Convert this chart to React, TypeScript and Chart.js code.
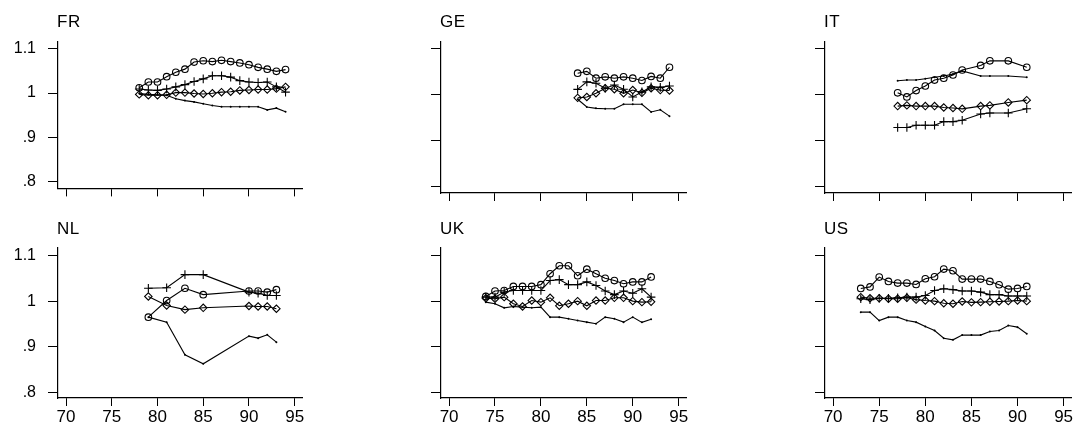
import React, { useEffect, useRef } from "react";
import { Chart, registerables } from "chart.js";

Chart.register(...registerables);

// ---------- tick labels ----------
const xTicks = [70, 75, 80, 85, 90, 95];
const yTicks = [0.8, 0.9, 1.0, 1.1];

// ---------- FR ----------
const frYears = [78, 79, 80, 81, 82, 83, 84, 85, 86, 87, 88, 89, 90, 91, 92, 93, 94];
const frCircle = [1.012, 1.025, 1.025, 1.037, 1.047, 1.054, 1.07, 1.073, 1.071, 1.074, 1.071, 1.068, 1.064, 1.058, 1.054, 1.049, 1.053];
const frPlus = [1.009, 1.007, 1.006, 1.009, 1.014, 1.019, 1.026, 1.032, 1.039, 1.039, 1.036, 1.028, 1.025, 1.024, 1.025, 1.014, 1.002];
const frDiamond = [0.997, 0.995, 0.995, 0.996, 1.001, 1.001, 0.999, 0.998, 0.9995, 1.002, 1.003, 1.006, 1.007, 1.008, 1.008, 1.01, 1.014];
const frDots = [0.999, 0.997, 0.996, 0.995, 0.987, 0.983, 0.98, 0.976, 0.972, 0.969, 0.969, 0.969, 0.969, 0.969, 0.962, 0.966, 0.958];

// ---------- GE ----------
const geYears = [84, 85, 86, 87, 88, 89, 90, 91, 92, 93, 94];
const geCircle = [1.047, 1.051, 1.036, 1.039, 1.036, 1.039, 1.036, 1.031, 1.04, 1.036, 1.06];
const gePlus = [1.0115, 1.028, 1.025, 1.014, 1.021, 1.012, 0.995, 1.006, 1.017, 1.016, 1.019];
const geDiamond = [0.993, 0.995, 1.003, 1.014, 1.012, 1.003, 1.01, 1.004, 1.014, 1.01, 1.009];
const geDots = [0.99, 0.973, 0.97, 0.969, 0.969, 0.979, 0.979, 0.979, 0.962, 0.967, 0.953];

// ---------- IT ----------
const itYears = [77, 78, 79, 80, 81, 82, 83, 84, 86, 87, 89, 91];
const itCircle = [1.004, 0.995, 1.009, 1.019, 1.032, 1.036, 1.043, 1.054, 1.064, 1.074, 1.074, 1.06];
const itPlus = [0.928, 0.928, 0.933, 0.933, 0.933, 0.941, 0.941, 0.944, 0.9575, 0.96, 0.96, 0.969];
const itDiamond = [0.975, 0.9765, 0.975, 0.975, 0.975, 0.972, 0.9707, 0.969, 0.975, 0.9765, 0.983, 0.988];
const itDots = [1.0305, 1.032, 1.032, 1.035, 1.038, 1.041, 1.045, 1.052, 1.041, 1.041, 1.041, 1.038];

// ---------- NL ----------
const nlYears = [79, 81, 83, 85, 90, 91, 92, 93];
const nlCircle = [0.9655, 1.002, 1.029, 1.015, 1.023, 1.023, 1.0205, 1.026];
const nlPlus = [1.029, 1.03, 1.059, 1.059, 1.0205, 1.018, 1.013, 1.013];
const nlDiamond = [1.011, 0.991, 0.982, 0.986, 0.99, 0.989, 0.989, 0.984];
const nlDots = [0.9655, 0.9545, 0.8826, 0.8628, 0.9237, 0.9193, 0.9266, 0.9105];

// ---------- UK ----------
const ukYears = [74, 75, 76, 77, 78, 79, 80, 81, 82, 83, 84, 85, 86, 87, 88, 89, 90, 91, 92];
const ukCircle = [1.011, 1.023, 1.024, 1.033, 1.033, 1.033, 1.037, 1.061, 1.0785, 1.0785, 1.0565, 1.071, 1.061, 1.051, 1.046, 1.039, 1.043, 1.043, 1.054];
const ukPlus = [1.0095, 1.0095, 1.0205, 1.024, 1.024, 1.024, 1.024, 1.046, 1.048, 1.037, 1.037, 1.043, 1.035, 1.023, 1.015, 1.023, 1.018, 1.028, 1.0095];
const ukDiamond = [1.007, 1.006, 1.0095, 0.995, 0.989, 1.002, 0.9985, 1.008, 0.9905, 0.995, 1.0007, 0.9905, 1.002, 1.002, 1.008, 1.008, 1.0007, 0.9985, 0.9993];
const ukDots = [0.9985, 0.995, 0.986, 0.989, 0.9875, 0.986, 0.9875, 0.9655, 0.9655, 0.962, 0.958, 0.9545, 0.951, 0.9655, 0.962, 0.9545, 0.9655, 0.954, 0.961];

// ---------- US ----------
const usYears = [73, 74, 75, 76, 77, 78, 79, 80, 81, 82, 83, 84, 85, 86, 87, 88, 89, 90, 91];
const usCircle = [1.0286, 1.032, 1.0536, 1.044, 1.0404, 1.0404, 1.0374, 1.0499, 1.0543, 1.0712, 1.0675, 1.0492, 1.0492, 1.0492, 1.044, 1.0367, 1.0271, 1.0286, 1.033];
const usPlus = [1.006, 1.004, 1.007, 1.007, 1.008, 1.0095, 1.0095, 1.013, 1.024, 1.028, 1.026, 1.023, 1.023, 1.0205, 1.015, 1.015, 1.012, 1.012, 1.012];
const usDiamond = [1.0095, 1.007, 1.007, 1.006, 1.006, 1.008, 1.004, 1.002, 1.0007, 0.996, 0.995, 1.0, 0.998, 0.9985, 0.9993, 1.0, 1.0007, 1.002, 1.0007];
const usDots = [0.9765, 0.9765, 0.958, 0.9655, 0.9655, 0.958, 0.9545, 0.945, 0.936, 0.919, 0.9156, 0.926, 0.926, 0.926, 0.934, 0.936, 0.947, 0.9435, 0.929];

type Panel = {
  name: string;
  years: number[];
  circle: number[];
  plus: number[];
  diamond: number[];
  dots: number[];
};

const panels: Panel[] = [
  { name: "FR", years: frYears, circle: frCircle, plus: frPlus, diamond: frDiamond, dots: frDots },
  { name: "GE", years: geYears, circle: geCircle, plus: gePlus, diamond: geDiamond, dots: geDots },
  { name: "IT", years: itYears, circle: itCircle, plus: itPlus, diamond: itDiamond, dots: itDots },
  { name: "NL", years: nlYears, circle: nlCircle, plus: nlPlus, diamond: nlDiamond, dots: nlDots },
  { name: "UK", years: ukYears, circle: ukCircle, plus: ukPlus, diamond: ukDiamond, dots: ukDots },
  { name: "US", years: usYears, circle: usCircle, plus: usPlus, diamond: usDiamond, dots: usDots },
];

// ---------- layout ----------
const FONT = "'Liberation Sans', Arial, sans-serif";
const COL_LEFT = [58, 441, 825];
const COL_WIDTH = [244, 245, 246];
const ROW_TOP = [0, 210];
const ROW_HEIGHT = [210, 223];
const ROW_PAD_TOP = [42, 38];
const ROW_XAXIS_H = [17, 35];
const ROW_YMIN = [0.7847, 0.7876];
const ROW_YMAX = [1.1153, 1.1176];
const X_MIN = 69.12;
const X_MAX = 95.8;
const Y_AXIS_W = 58;
const RIGHT_PAD = 12;

const fmtY = (v: number) => {
  const s = String(Math.round(v * 10) / 10);
  return s.startsWith("0.") ? s.slice(1) : s;
};

function PanelChart({ panel, row, col }: { panel: Panel; row: number; col: number }) {
  const ref = useRef<HTMLCanvasElement>(null);
  const width = Y_AXIS_W + COL_WIDTH[col] + RIGHT_PAD;
  const height = ROW_HEIGHT[row];

  useEffect(() => {
    if (!ref.current) return;
    const pts = (vals: number[]) => panel.years.map((x, i) => ({ x, y: vals[i] }));
    const base = {
      borderColor: "#000",
      borderWidth: 1.1,
      tension: 0,
      fill: false,
      pointBorderColor: "#000",
      pointBorderWidth: 1.1,
    };
    const chart = new Chart(ref.current, {
      type: "line",
      data: {
        datasets: [
          { ...base, data: pts(panel.dots), pointStyle: "circle", pointRadius: 1, pointBorderWidth: 0, pointBackgroundColor: "#000" },
          { ...base, data: pts(panel.diamond), pointStyle: "rectRot", pointRadius: 3.7, pointBackgroundColor: "rgba(0,0,0,0)" },
          { ...base, data: pts(panel.plus), pointStyle: "cross", pointRadius: 4.3, pointBackgroundColor: "rgba(0,0,0,0)" },
          { ...base, data: pts(panel.circle), pointStyle: "circle", pointRadius: 3.3, pointBackgroundColor: "rgba(0,0,0,0)" },
        ] as any,
      },
      options: {
        responsive: false,
        animation: false,
        devicePixelRatio: 1,
        layout: { padding: { top: ROW_PAD_TOP[row], right: RIGHT_PAD, left: 0, bottom: 0 } },
        plugins: {
          legend: { display: false },
          tooltip: { enabled: false },
          title: { display: false },
        },
        scales: {
          x: {
            type: "linear",
            min: X_MIN,
            max: X_MAX,
            afterBuildTicks: (s: any) => {
              s.ticks = xTicks.map((v) => ({ value: v }));
            },
            afterFit: (s: any) => {
              s.height = ROW_XAXIS_H[row];
            },
            grid: { display: true, drawOnChartArea: false, drawTicks: true, tickLength: 8, color: "#000", lineWidth: 1 },
            border: { display: true, color: "#000", width: 1.2 },
            ticks: {
              display: row === 1,
              color: "#000",
              padding: 1,
              maxRotation: 0,
              autoSkip: false,
              font: { family: FONT, size: 17 },
              callback: (v: any) => String(v),
            },
          },
          y: {
            type: "linear",
            min: ROW_YMIN[row],
            max: ROW_YMAX[row],
            afterBuildTicks: (s: any) => {
              s.ticks = yTicks.map((v) => ({ value: v }));
            },
            afterFit: (s: any) => {
              s.width = Y_AXIS_W;
            },
            grid: { display: true, drawOnChartArea: false, drawTicks: true, tickLength: 10, color: "#000", lineWidth: 1 },
            border: { display: true, color: "#000", width: 1.2 },
            ticks: {
              display: col === 0,
              color: "#000",
              padding: 12,
              autoSkip: false,
              font: { family: FONT, size: 16 },
              callback: (v: any) => fmtY(Number(v)),
            },
          },
        },
      } as any,
    });
    return () => chart.destroy();
  }, [panel, row, col]);

  return (
    <>
      <canvas
        ref={ref}
        width={width}
        height={height}
        style={{
          position: "absolute",
          left: COL_LEFT[col] - Y_AXIS_W,
          top: ROW_TOP[row],
          width,
          height,
        }}
      />
      <div
        style={{
          position: "absolute",
          left: COL_LEFT[col] - 1,
          top: row === 0 ? 13 : 220,
          fontFamily: FONT,
          fontSize: 17,
          lineHeight: "17px",
          letterSpacing: "0.5px",
          color: "#000",
          whiteSpace: "nowrap",
        }}
      >
        {panel.name}
      </div>
    </>
  );
}

export default function App() {
  return (
    <div
      style={{
        position: "absolute",
        left: 0,
        top: 0,
        width: 1078,
        height: 433,
        overflow: "hidden",
        background: "#fff",
      }}
    >
      {panels.map((p, i) => (
        <PanelChart key={p.name} panel={p} row={Math.floor(i / 3)} col={i % 3} />
      ))}
    </div>
  );
}
